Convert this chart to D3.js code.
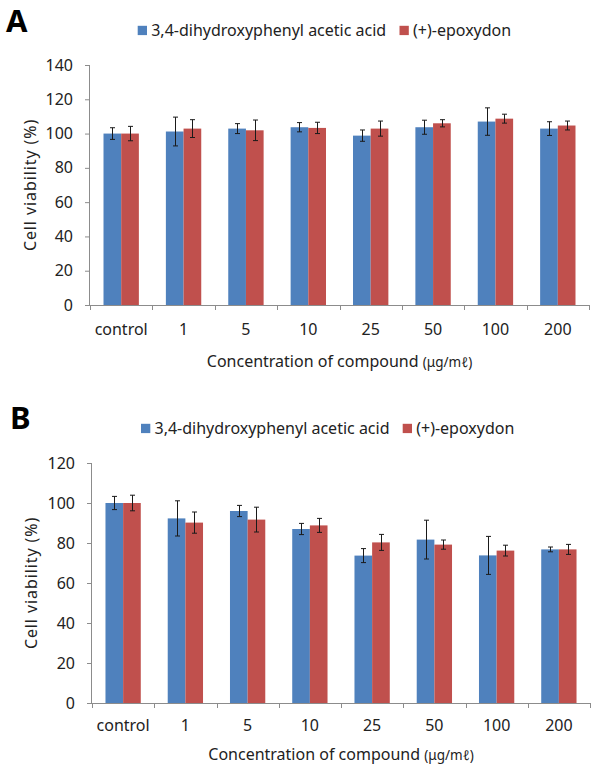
<!DOCTYPE html>
<html>
<head>
<meta charset="utf-8">
<script src="https://cdn.jsdelivr.net/npm/d3@7"></script>
<style>
  html, body { margin: 0; padding: 0; background: #fff; }
  svg { display: block; }
  text { font-family: "Noto Sans", "Open Sans", sans-serif; fill: #222; }
</style>
</head>
<body>
<svg id="chart" width="600" height="776"></svg>
<script>
// ---- data ----
const categories = ["control", "1", "5", "10", "25", "50", "100", "200"];
const seriesNames = ["3,4-dihydroxyphenyl acetic acid", "(+)-epoxydon"];

// Panel A
const aDopac    = [100, 101.2, 102.9, 103.7, 98.8, 103.7, 107.0, 102.9];
const aDopacErr = [3.4, 8.4, 2.9, 2.7, 3.3, 4.1, 8.0, 4.0];
const aEpox     = [100, 102.9, 101.9, 103.3, 102.9, 106.0, 108.7, 104.7];
const aEpoxErr  = [4.2, 5.2, 6.0, 3.3, 4.4, 2.1, 2.6, 2.6];
const aTicks    = [0, 20, 40, 60, 80, 100, 120, 140];

// Panel B
const bDopac    = [100, 92.3, 96.0, 87.0, 73.7, 81.7, 73.8, 76.8];
const bDopacErr = [3.3, 8.8, 2.8, 2.8, 3.5, 9.7, 9.5, 1.2];
const bEpox     = [100, 90.2, 91.7, 88.8, 80.3, 79.2, 76.2, 76.8];
const bEpoxErr  = [3.9, 5.3, 6.2, 3.5, 4.0, 2.3, 2.7, 2.5];
const bTicks    = [0, 20, 40, 60, 80, 100, 120];

const xTitleMain = "Concentration of compound ";
const xTitleUnit = "(μg/mℓ)";
const yTitle = "Cell viability (%)";
const colors = ["#4F81BD", "#C0504D"];
const axisColor = "#8c8c8c";

const svg = d3.select("#chart");

function drawPanel(cfg) {
  const g = svg.append("g");
  const x0 = d3.scaleBand().domain(categories)
    .range([cfg.left, cfg.right]).paddingInner(0.433).paddingOuter(0.2165);
  const x1 = d3.scaleBand().domain([0, 1]).range([0, x0.bandwidth()]).padding(0);
  const y = d3.scaleLinear().domain([0, cfg.max]).range([cfg.bottom, cfg.top]);

  // panel letter
  g.append("text").attr("x", cfg.letterX).attr("y", cfg.letterY)
    .attr("font-size", 31).attr("font-weight", "bold")
    .attr("font-family", "Liberation Sans, Arial, sans-serif")
    .style("fill", "#000").text(cfg.letter);

  // legend
  const legend = g.append("g");
  cfg.legendX.forEach((lx, i) => {
    legend.append("rect").attr("x", lx).attr("y", cfg.legendY - 4.7)
      .attr("width", 9.3).attr("height", 9.3).attr("fill", colors[i]);
    legend.append("text").attr("x", lx + 13.5).attr("y", cfg.legendY + 5.6)
      .attr("font-size", 16).text(seriesNames[i]);
  });

  // y axis
  const yAxis = d3.axisLeft(y).tickValues(cfg.ticks).tickSize(5).tickPadding(12);
  const ya = g.append("g").attr("transform", `translate(${cfg.left},0)`).call(yAxis);
  ya.select(".domain").attr("stroke", axisColor).attr("d", `M-0.5,${cfg.top}V${cfg.bottom}`);
  ya.selectAll(".tick line").attr("stroke", axisColor);
  ya.selectAll(".tick text").attr("font-size", 16).style("fill", "#222")
    .attr("font-family", "Noto Sans, sans-serif");

  // bars
  const data = [cfg.s0, cfg.s1];
  const errs = [cfg.e0, cfg.e1];
  categories.forEach((c, ci) => {
    [0, 1].forEach(si => {
      const v = data[si][ci];
      g.append("rect")
        .attr("x", x0(c) + x1(si))
        .attr("y", y(v))
        .attr("width", x1.bandwidth())
        .attr("height", y(0) - y(v))
        .attr("fill", colors[si]);
    });
  });
  // error bars
  categories.forEach((c, ci) => {
    [0, 1].forEach(si => {
      const v = data[si][ci], e = errs[si][ci];
      const cx = Math.round(x0(c) + x1(si) + x1.bandwidth() / 2) + 0.5;
      const eg = g.append("g").attr("stroke", "#1a1a1a").attr("stroke-width", 1);
      eg.append("line").attr("x1", cx).attr("x2", cx).attr("y1", y(v + e)).attr("y2", y(v - e));
      eg.append("line").attr("x1", cx - 2.5).attr("x2", cx + 2.5).attr("y1", y(v + e)).attr("y2", y(v + e));
      eg.append("line").attr("x1", cx - 2.5).attr("x2", cx + 2.5).attr("y1", y(v - e)).attr("y2", y(v - e));
    });
  });

  // x axis line + boundary ticks
  const xa = g.append("g");
  xa.append("line").attr("x1", cfg.left).attr("x2", cfg.right)
    .attr("y1", cfg.bottom + 0.5).attr("y2", cfg.bottom + 0.5).attr("stroke", axisColor);
  const bounds = categories.map(c => x0(c) - (x0.step() - x0.bandwidth()) / 2);
  bounds.push(cfg.right);
  bounds.forEach(bx => {
    xa.append("line").attr("x1", Math.round(bx) + 0.5).attr("x2", Math.round(bx) + 0.5)
      .attr("y1", cfg.bottom).attr("y2", cfg.bottom + 5).attr("stroke", axisColor);
  });
  categories.forEach(c => {
    xa.append("text").attr("x", x0(c) + x0.bandwidth() / 2).attr("y", cfg.bottom + cfg.labelDy)
      .attr("text-anchor", "middle").attr("font-size", 16).text(c);
  });

  // axis titles
  const xt = g.append("text").attr("x", (cfg.left + cfg.right) / 2).attr("y", cfg.bottom + cfg.titleDy)
    .attr("text-anchor", "middle").attr("font-size", 16);
  xt.append("tspan").text(xTitleMain);
  xt.append("tspan").attr("font-size", 13.5).text(xTitleUnit);
  g.append("text")
    .attr("transform", `translate(${cfg.yTitleX},${(cfg.top + cfg.bottom) / 2}) rotate(-90)`)
    .attr("text-anchor", "middle").attr("font-size", 16).attr("letter-spacing", 0.9).text(yTitle);
}

drawPanel({
  letter: "A", letterX: 6, letterY: 32,
  legendX: [137.7, 399.5], legendY: 30.5,
  left: 90, right: 589, top: 65, bottom: 305, max: 140, ticks: aTicks,
  yTitleX: 36, labelDy: 30, titleDy: 62,
  s0: aDopac, e0: aDopacErr, s1: aEpox, e1: aEpoxErr
});

drawPanel({
  letter: "B", letterX: 10, letterY: 429,
  legendX: [141, 402.7], legendY: 428.5,
  left: 92, right: 590, top: 463, bottom: 703, max: 120, ticks: bTicks,
  yTitleX: 37, labelDy: 28, titleDy: 57,
  s0: bDopac, e0: bDopacErr, s1: bEpox, e1: bEpoxErr
});
</script>
</body>
</html>
